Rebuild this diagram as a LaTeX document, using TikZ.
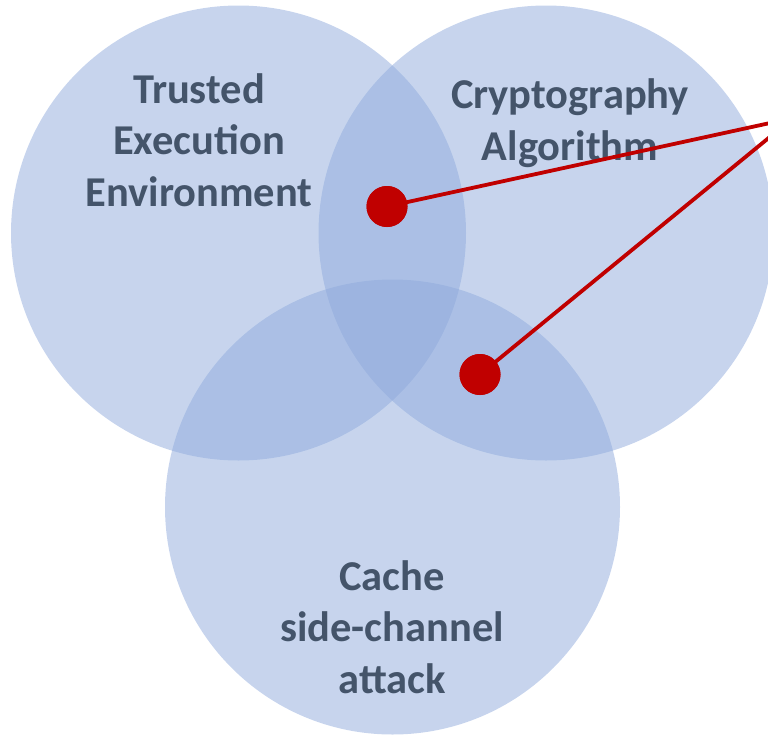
\documentclass[tikz,border=0pt]{standalone}
\usepackage{fontspec}
\setmainfont{Carlito}
\usepackage{xcolor}

\definecolor{vennblue}{HTML}{8FAADC}
\definecolor{labelgray}{HTML}{44546A}
\definecolor{dotred}{HTML}{C00000}

\begin{document}
\begin{tikzpicture}[
        x=1pt, y=-1pt,
        venn/.style={
            circle,
            inner sep=0pt,
            minimum size=455pt,
            fill=vennblue,
            fill opacity=0.5,
          },
        setlabel/.style={
            align=center,
            text=labelgray,
            font=\fontsize{42.5}{51.5}\selectfont\bfseries,
          },
        hitdot/.style={
            circle,
            inner sep=0pt,
            minimum size=41pt,
            fill=dotred,
          },
        pointer/.style={
            draw=dotred,
            line width=3.8pt,
          }
        ]
        \useasboundingbox (0,0) rectangle (768,734);
        \clip (0,0) rectangle (768,734);

        % the three sets
        \node[venn] (tee) at (238.5, 233) {};
        \node[venn] (crypto) at (546, 233) {};
        \node[venn] (cache) at (392.5, 507) {};

        \node[setlabel] (teelabel) at (199, 140) {Trusted\\Execution\\Environment};
        \node[setlabel] (cryptolabel) at (570, 123) {Cryptography\\Algorithm};
        \node[setlabel] (cachelabel) at (392, 627) {Cache\\side-channel\\attack};

        % pointers to the overlaps
        \coordinate (apex) at (793, 118);
        \node[hitdot] (teecrypto) at (387, 206.5) {};
        \node[hitdot] (cryptocache) at (480, 374.5) {};
        \draw[pointer] (teecrypto.center) -- (apex);
        \draw[pointer] (cryptocache.center) -- (apex);
        \node[hitdot] at (teecrypto) {};
        \node[hitdot] at (cryptocache) {};
    \end{tikzpicture}
\end{document}
